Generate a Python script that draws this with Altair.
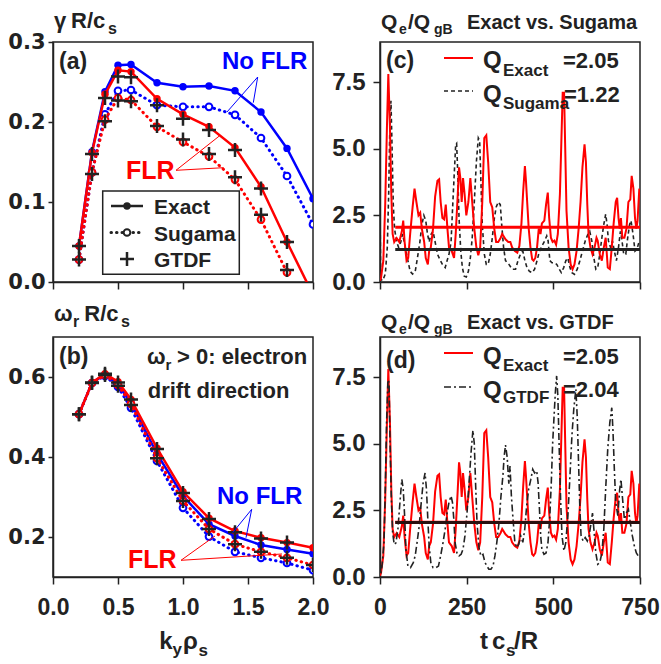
import altair as alt
import pandas as pd

# ---------------- data ----------------
k = [0.2, 0.3, 0.4, 0.5, 0.6, 0.8, 1.0, 1.2, 1.4, 1.6, 1.8, 2.0]

gamma_exact_noflr = [0.045, 0.163, 0.238, 0.271, 0.272, 0.249, 0.244, 0.245, 0.239, 0.2125, 0.167, 0.104]
gamma_sugama_noflr = [0.028, 0.137, 0.2096, 0.239, 0.240, 0.221, 0.219, 0.219, 0.209, 0.180, 0.1325, 0.072]
gamma_exact_flr = [0.045, 0.1617, 0.2346, 0.2646, 0.263, 0.229, 0.2096, 0.194, 0.168, 0.119, 0.050, -0.016]
gamma_sugama_flr = [0.028, 0.137, 0.203, 0.230, 0.2275, 0.194, 0.175, 0.157, 0.128, 0.078, 0.012, None]
gamma_gtdf_1 = [0.045, 0.160, 0.230, 0.257, 0.256, 0.221, 0.204, 0.190, 0.165, 0.117, 0.050, None]
gamma_gtdf_2 = [0.028, 0.135, 0.201, 0.227, 0.226, 0.195, 0.178, 0.160, 0.131, 0.084, 0.015, None]

omega_exact_flr = [0.507, 0.586, 0.608, 0.588, 0.544, 0.422, 0.313, 0.247, 0.215, 0.198, 0.186, 0.173]
omega_exact_noflr = [0.507, 0.586, 0.606, 0.582, 0.535, 0.408, 0.3025, 0.232, 0.2025, 0.180, 0.169, 0.158]
omega_sugama_flr = [0.507, 0.585, 0.605, 0.580, 0.533, 0.397, 0.290, 0.220, 0.182, 0.163, 0.148, 0.130]
omega_sugama_noflr = [0.507, 0.585, 0.603, 0.575, 0.523, 0.390, 0.273, 0.201, 0.163, 0.148, 0.135, 0.117]
omega_gtdf_1 = [0.507, 0.586, 0.608, 0.586, 0.544, 0.420, 0.310, 0.245, 0.212, 0.196, 0.186, None]
omega_gtdf_2 = [0.507, 0.585, 0.605, 0.578, 0.530, 0.397, 0.290, 0.220, 0.182, 0.163, 0.148, 0.130]

t_exact = [0, 3, 9.6, 15, 20, 24, 28.7, 32.6, 36.4, 41, 48, 55.6, 63, 67, 71, 76.6, 81.4, 87, 94, 99.6,
           105, 111, 116, 120.7, 127.4, 132, 138, 141.8, 146.6, 153, 159, 165.7, 170.5, 175, 180, 185, 189.7,
           194.5, 199, 207, 213.6, 218.4, 224, 228, 231.8, 235.7, 239.5, 244, 249, 255, 260.6, 266, 272, 278,
           283.6, 289, 295, 300.8, 306.6, 312, 318, 323.8, 329.6, 335, 341, 347.8, 352.5, 362, 370, 376, 381,
           389, 396, 402, 408, 413, 418, 421, 425, 429, 434, 439, 443, 448, 453, 458, 463, 467, 474, 479, 484,
           488, 493, 498, 503, 508, 513, 519, 523, 527, 531, 534, 538, 544, 550, 555.5, 561, 567, 573, 578.5,
           584, 590, 594, 598, 601.5, 607, 613, 619, 624.5, 628, 634, 640, 645.6, 651, 657, 663, 668.6, 674,
           680, 684, 688, 691.5, 695, 699, 705, 711, 716.5, 722, 726, 731, 735.6, 739.5, 743, 748]
q_exact = [0.05, 0.16, 0.8, 2.9, 5.8, 7.8, 5.8, 3.3, 1.8, 1.5, 1.65, 1.5, 1.9, 2.3, 1.5, 0.8, 0.9, 1.8, 2.8, 3.5,
           3.0, 2.5, 2.6, 2.0, 1.5, 0.9, 0.66, 1.16, 1.3, 2.0, 3.2, 3.8, 3.85, 3.0, 2.4, 2.35, 2.9, 2.0, 1.3, 1.16,
           0.9, 1.8, 3.2, 4.3, 3.9, 3.0, 3.9, 3.3, 2.5, 3.0, 3.9, 3.0, 2.0, 1.3, 1.0, 1.3, 3.0, 5.4, 5.5, 4.5,
           3.0, 2.8, 2.0, 1.5, 1.5, 1.65, 1.8, 1.6, 1.5, 1.5, 1.3, 1.16, 1.1, 1.35, 2.2, 3.4, 4.35, 3.8, 2.9, 2.0,
           1.3, 0.85, 0.8, 0.9, 1.3, 2.0, 1.8, 2.2, 2.3, 2.9, 3.35, 2.4, 1.66, 1.5, 1.55, 1.4, 1.8, 3.3, 5.2, 7.1,
           7.1, 5.2, 2.66, 1.3, 0.66, 0.48, 0.66, 1.16, 2.0, 3.0, 4.3, 5.16, 4.5, 2.9, 1.8, 1.3, 1.04, 1.3, 1.66, 1.55,
           1.04, 0.8, 1.3, 1.66, 0.54, 0.48, 1.3, 2.2, 3.0, 3.16, 2.4, 2.0, 2.4, 1.66, 1.66, 2.0, 3.0, 3.1, 3.98, 3.5,
           2.4, 2.0, 2.3, 3.5]

t_sugama = [0, 2, 7.7, 15.3, 21, 25, 28.7, 31.6, 34.5, 38.3, 42, 48, 53.6, 60, 65, 70, 74.7, 80.5, 87, 94,
            101.6, 108, 115, 121, 126.5, 132, 137, 141.8, 147.6, 153, 159, 166, 172.5, 180, 188, 193.5, 199, 205,
            209, 213.6, 218.4, 221, 224, 228, 233, 237.6, 243, 249, 255, 260.6, 266, 272, 278, 283.6, 287.4, 291,
            295, 301, 306.6, 312, 318, 324, 330, 335, 341, 347, 351, 356.5, 362, 372, 381, 391, 398, 405, 412, 418,
            424, 431, 439, 446, 453, 460, 467, 475, 481, 485, 490, 496, 504, 510, 517, 523, 530, 536, 542, 548,
            553.6, 561, 569, 576.6, 584, 592, 599.6, 605, 611, 617, 622.6, 628, 634, 640, 645.6, 651, 655, 659,
            665, 670.5, 676, 682, 688, 693.5, 697, 703, 709, 714.5, 720, 724, 730, 735.6, 741, 748]
q_sugama = [2.8, 0.1, 0.05, 0.3, 1.3, 3.3, 6.0, 6.8, 5.2, 2.9, 2.0, 1.5, 1.3, 1.5, 1.8, 1.5, 1.16, 0.8, 0.4, 0.3,
            0.4, 0.9, 1.5, 2.16, 2.5, 2.3, 1.8, 1.5, 1.8, 1.9, 1.5, 1.04, 0.85, 0.66, 0.54, 0.8, 1.04, 1.5, 2.66, 3.9,
            5.16, 5.2, 4.2, 2.4, 1.16, 0.54, 0.22, 0.19, 0.4, 0.9, 1.66, 3.0, 4.5, 5.4, 5.3, 3.8, 2.16, 1.04, 0.66, 0.66,
            1.04, 1.66, 2.4, 2.8, 3.0, 2.9, 2.16, 1.3, 0.8, 0.66, 0.48, 0.48, 0.8, 1.04, 1.16, 0.8, 0.54, 0.4, 0.35, 0.48,
            0.8, 1.16, 1.35, 1.54, 1.73, 1.54, 0.8, 0.72, 0.72, 0.66, 0.48, 0.35, 0.54, 0.8, 0.9, 0.54, 0.35, 0.29, 0.48, 0.8,
            1.16, 1.54, 1.79, 1.9, 1.54, 0.9, 0.48, 0.54, 1.04, 1.66, 2.16, 2.54, 2.16, 1.54, 1.3, 1.54, 1.16, 0.8, 1.3, 1.9,
            1.66, 1.04, 1.04, 1.66, 2.16, 2.3, 1.79, 1.16, 1.22, 1.54]

t_gtdf = [0, 2, 5.7, 11.5, 15.3, 19, 23, 26, 28.7, 32.6, 36.4, 41, 46, 51.7, 57.5, 63, 67, 71, 74.7, 80.5,
          88, 96, 101.6, 107, 113, 119, 124.5, 130, 134, 138, 141.8, 146.6, 153, 161, 168.6, 175, 182, 188, 193.5,
          199, 205, 209, 213, 216.5, 222, 228, 234, 239.5, 245, 251, 257, 262.6, 268, 272, 276, 280, 285.6, 291,
          297, 303, 308.5, 314, 320, 326, 331.5, 337, 343, 349, 354.6, 358, 362, 366.8, 371.6, 375, 379, 383, 389,
          394.6, 400, 406, 412, 417.6, 423, 429, 435, 440.6, 446, 452, 456, 460, 463.5, 467, 473, 479, 484.6, 490,
          494, 498, 502, 505.7, 509.5, 513, 517, 521, 525, 530.6, 536, 542, 548, 553.6, 559, 565, 569, 573, 576.6,
          580, 586, 592, 598, 603, 609, 613, 617, 622.6, 628, 634, 640, 645.6, 651, 657, 663, 668.6, 672, 676, 680,
          686, 691.5, 695, 699, 705, 711, 716.5, 722, 728, 733.7, 739.5, 745, 750]
q_gtdf = [1.0, 0.1, 0.4, 1.3, 3.3, 5.8, 7.4, 7.3, 5.2, 3.0, 1.66, 1.22, 1.28, 1.8, 2.8, 3.66, 3.3, 2.3, 1.04, 0.41,
          0.35, 0.54, 0.8, 1.3, 1.9, 2.8, 3.54, 3.9, 3.3, 2.16, 1.16, 0.54, 0.35, 0.35, 0.41, 0.8, 1.3, 1.8, 2.4, 2.8,
          3.04, 2.8, 2.16, 1.3, 0.9, 0.79, 0.85, 1.04, 1.54, 2.4, 3.54, 4.66, 5.5, 5.0, 3.4, 2.0, 1.1, 0.79, 0.85, 0.54,
          0.41, 0.29, 0.29, 0.41, 0.79, 1.3, 2.0, 3.04, 3.8, 4.5, 4.95, 4.5, 3.5, 4.16, 3.04, 2.3, 1.3, 1.1, 1.22, 1.54,
          1.3, 1.8, 2.66, 3.3, 3.66, 4.04, 3.9, 3.98, 3.54, 2.54, 1.54, 1.04, 0.85, 0.9, 1.3, 2.3, 3.5, 5.0, 6.0, 6.9,
          7.54, 6.8, 4.8, 2.9, 1.54, 0.98, 1.3, 2.3, 3.8, 5.3, 6.3, 7.04, 6.0, 4.16, 2.54, 1.54, 1.35, 1.48, 1.35, 1.54,
          2.04, 2.4, 1.79, 0.9, 0.48, 0.54, 0.9, 1.79, 3.3, 4.8, 5.8, 6.35, 5.5, 4.04, 2.8, 2.3, 3.3, 3.66, 3.04, 2.16,
          2.4, 2.54, 2.04, 1.54, 1.16, 0.9, 0.79, 0.85]

mean_exact = 2.05
mean_sugama = 1.22
mean_gtdf = 2.04
mean_t = [44, 750]

k_ticks = [0, 0.5, 1.0, 1.5, 2.0]
gamma_ticks = [0.0, 0.1, 0.2, 0.3]
omega_ticks = [0.2, 0.4, 0.6]
t_ticks = [0, 250, 500, 750]
q_ticks = [0.0, 2.5, 5.0, 7.5]

# ---------------- style ----------------
RED = "#ff0000"
BLUE = "#0000ff"
INK = "#222222"
F = "Liberation Sans"
FW = "DejaVu Sans"
W, H = 260, 240
DUMMY = pd.DataFrame({"d": [0]})
PLUS = "M-1,0L1,0M0,-1L0,1"
DOT = [0.5, 5]


def x_enc(dom, ticks, labels, fmt):
    return alt.X("x:Q", scale=alt.Scale(domain=dom, nice=False, zero=False),
                 axis=alt.Axis(values=ticks, labels=labels, format=fmt, title=None, grid=False,
                               tickSize=7, tickWidth=1.5, domainWidth=1.5, tickColor=INK, domainColor=INK,
                               labelFlush=False, labelOverlap=False, labelFont=F, labelFontSize=23,
                               labelFontWeight="bold", labelColor=INK, labelBaseline="alphabetic",
                               labelPadding=30))


def y_enc(dom, ticks, font, size, tick, pad):
    return alt.Y("y:Q", scale=alt.Scale(domain=dom, nice=False, zero=False),
                 axis=alt.Axis(values=ticks, format=".1f", title=None, grid=False,
                               tickSize=tick, tickWidth=1.5, domainWidth=1.5, tickColor=INK, domainColor=INK,
                               labelFlush=False, labelOverlap=False, labelFont=font, labelFontSize=size,
                               labelFontWeight="bold", labelColor=INK, labelPadding=pad))


def frame(xs, ys):
    return pd.DataFrame({"x": xs, "y": ys}).dropna()


def line(xs, ys, ex, ey, color, width=2.5, dash=None, cap="butt"):
    kw = dict(color=color, strokeWidth=width, clip=True, strokeCap=cap)
    if dash:
        kw["strokeDash"] = dash
    return alt.Chart(frame(xs, ys)).mark_line(**kw).encode(x=ex, y=ey)


def dots(xs, ys, ex, ey, kind, color):
    if kind == "filled":
        m = dict(shape="circle", filled=True, color=color, size=55)
    elif kind == "open":
        m = dict(shape="circle", filled=True, fill="white", stroke=color, strokeWidth=2, size=45)
    else:
        m = dict(shape=PLUS, filled=False, color=color, strokeWidth=2.5, size=196)
    return alt.Chart(frame(xs, ys)).mark_point(opacity=1, clip=True, **m).encode(x=ex, y=ey)


def txt(s, x, y, size, color=INK, font=F):
    return alt.Chart(DUMMY).mark_text(text=s, font=font, fontSize=size, fontWeight="bold", color=color,
                                      align="left", baseline="alphabetic").encode(
        x=alt.value(x), y=alt.value(y))


def seg(x1, y1, x2, y2, color, width=1.0, dash=None, cap="butt"):
    kw = dict(color=color, strokeWidth=width, strokeCap=cap)
    if dash:
        kw["strokeDash"] = dash
    return alt.Chart(DUMMY).mark_rule(**kw).encode(
        x=alt.value(x1), y=alt.value(y1), x2=alt.value(x2), y2=alt.value(y2))


def sym(x, y, kind, color=INK):
    if kind == "filled":
        m = dict(shape="circle", filled=True, color=color, size=55)
    elif kind == "open":
        m = dict(shape="circle", filled=True, fill="white", stroke=color, strokeWidth=2, size=45)
    else:
        m = dict(shape=PLUS, filled=False, color=color, strokeWidth=2.5, size=196)
    return alt.Chart(DUMMY).mark_point(opacity=1, **m).encode(x=alt.value(x), y=alt.value(y))


def mean_rule(val, ex, ey, color):
    df = pd.DataFrame({"x": [mean_t[0]], "x2": [mean_t[1]], "y": [val]})
    return alt.Chart(df).mark_rule(color=color, strokeWidth=3).encode(x=ex, x2="x2:Q", y=ey)


# ---------------- panel (a) ----------------
exa = x_enc([0, 2], k_ticks, False, ".1f")
eya = y_enc([0, 0.3], gamma_ticks, FW, 21, 5, 3)
pa = alt.layer(
    seg(-52, -41, -51, -41, "white", 0.5),
    line(k, gamma_exact_noflr, exa, eya, BLUE),
    dots(k, gamma_exact_noflr, exa, eya, "filled", BLUE),
    line(k, gamma_sugama_noflr, exa, eya, BLUE, 3, DOT, "round"),
    dots(k, gamma_sugama_noflr, exa, eya, "open", BLUE),
    line(k, gamma_exact_flr, exa, eya, RED),
    dots(k, gamma_exact_flr, exa, eya, "filled", RED),
    line(k, gamma_sugama_flr, exa, eya, RED, 3, DOT, "round"),
    dots(k, gamma_sugama_flr, exa, eya, "open", RED),
    dots(k, gamma_gtdf_1, exa, eya, "plus", INK),
    dots(k, gamma_gtdf_2, exa, eya, "plus", INK),
    txt("γ", 1, -14, 22), txt("R/c", 18, -14, 22), txt("s", 55, -8, 16),
    txt("(a)", 6, 27, 23),
    txt("No FLR", 169, 27, 24, BLUE),
    seg(204.7, 35, 174, 70, BLUE), seg(204.7, 35, 200.3, 60.7, BLUE),
    txt("FLR", 73, 137, 25, RED),
    seg(123, 128.3, 166.3, 94, RED), seg(123, 128.3, 170.7, 125.7, RED),
    alt.Chart(DUMMY).mark_rect(fill="white", stroke=INK, strokeWidth=1.5).encode(
        x=alt.value(49.7), x2=alt.value(186.3), y=alt.value(149), y2=alt.value(232.3)),
    seg(58, 164, 90, 164, INK, 2.5), sym(74, 164, "filled"), txt("Exact", 101, 172, 21),
    seg(58, 190.5, 90, 190.5, INK, 3, DOT, "round"), sym(74, 190.5, "open"), txt("Sugama", 101, 198.5, 21),
    sym(74, 217, "plus"), txt("GTDF", 101, 225, 21),
).properties(width=W, height=H)

# ---------------- panel (b) ----------------
exb = x_enc([0, 2], k_ticks, True, ".1f")
eyb = y_enc([0.1, 0.7], omega_ticks, FW, 21, 5, 3)
pb = alt.layer(
    line(k, omega_exact_noflr, exb, eyb, BLUE),
    dots(k, omega_exact_noflr, exb, eyb, "filled", BLUE),
    line(k, omega_sugama_noflr, exb, eyb, BLUE, 3, DOT, "round"),
    dots(k, omega_sugama_noflr, exb, eyb, "open", BLUE),
    line(k, omega_exact_flr, exb, eyb, RED),
    dots(k, omega_exact_flr, exb, eyb, "filled", RED),
    line(k, omega_sugama_flr, exb, eyb, RED, 3, DOT, "round"),
    dots(k, omega_sugama_flr, exb, eyb, "open", RED),
    dots(k, omega_gtdf_1, exb, eyb, "plus", INK),
    dots(k, omega_gtdf_2, exb, eyb, "plus", INK),
    txt("ω", 1, -16, 22), txt("r", 20, -10, 16), txt("R/c", 31.3, -16, 22), txt("s", 68, -10, 16),
    txt("(b)", 6, 27, 23),
    txt("ω", 94, 27, 22), txt("r", 112.5, 33, 15), txt("> 0: electron", 124, 27, 22),
    txt("drift direction", 94.7, 60.7, 22),
    txt("No FLR", 164, 167.3, 24, BLUE),
    seg(198.7, 172.3, 179.7, 195.7, BLUE), seg(198.7, 172.3, 193, 200.7, BLUE),
    txt("FLR", 75, 230.7, 25, RED),
    seg(128, 223.3, 162, 199, RED), seg(128, 223.3, 229, 217, RED),
    txt("k", 106.3, 312.3, 24), txt("y", 119.5, 318, 17), txt("ρ", 130, 312.3, 24), txt("s", 145.5, 319, 17),
).properties(width=W, height=H)

# ---------------- panel (c) ----------------
exc = x_enc([0, 750], t_ticks, False, "d")
eyc = y_enc([0, 9], q_ticks, F, 24, 7, 8)
pc = alt.layer(
    line(t_sugama, q_sugama, exc, eyc, INK, 1.6, [4, 3]),
    line(t_exact, q_exact, exc, eyc, RED, 2),
    mean_rule(mean_exact, exc, eyc, RED),
    mean_rule(mean_sugama, exc, eyc, INK),
    txt("Q", 1, -13, 21), txt("e", 19, -8, 14), txt("/Q", 28, -13, 21), txt("gB", 54, -8, 14),
    txt("Exact vs. Sugama", 87, -13, 20),
    txt("(c)", 6, 26, 23),
    seg(64, 16, 93, 16, RED, 2), txt("Q", 103, 26, 24), txt("Exact", 123, 34, 17), txt("=2.05", 183, 26, 22),
    seg(64, 49, 93, 49, INK, 1.6, [4, 3]), txt("Q", 103, 60, 24), txt("Sugama", 123, 67, 17),
    txt("=1.22", 184, 60, 22),
).properties(width=W, height=H)

# ---------------- panel (d) ----------------
exd = x_enc([0, 750], t_ticks, True, "d")
eyd = y_enc([0, 9], q_ticks, F, 24, 7, 8)
pd_ = alt.layer(
    line(t_exact, q_exact, exd, eyd, RED, 2),
    line(t_gtdf, q_gtdf, exd, eyd, INK, 1.6, [7, 3, 2, 3]),
    mean_rule(mean_exact, exd, eyd, RED),
    mean_rule(mean_gtdf, exd, eyd, "#2a1010"),
    txt("Q", 1, -8, 21), txt("e", 19, -3, 14), txt("/Q", 28, -8, 21), txt("gB", 54, -3, 14),
    txt("Exact vs. GTDF", 87, -8, 20),
    txt("(d)", 6, 31, 23),
    seg(64, 16, 93, 16, RED, 2), txt("Q", 103, 27, 24), txt("Exact", 123, 34, 17), txt("=2.05", 183, 27, 22),
    seg(64, 50, 93, 50, INK, 1.6, [7, 3, 2, 3]), txt("Q", 103, 61, 24), txt("GTDF", 123, 66, 17),
    txt("=2.04", 183, 60, 22),
    txt("t", 100, 312.3, 24), txt("c", 112, 312.3, 24), txt("s", 126, 319, 17), txt("/R", 134, 312.3, 24),
).properties(width=W, height=H)

chart = alt.concat(pa, pc, pb, pd_, columns=2, spacing={"row": 55, "column": 67}, bounds="flush").properties(
    padding=0, background="white"
).configure_view(stroke=INK, strokeWidth=1.5)

chart.save("out.html", embed_options={"renderer": "svg", "actions": False})
